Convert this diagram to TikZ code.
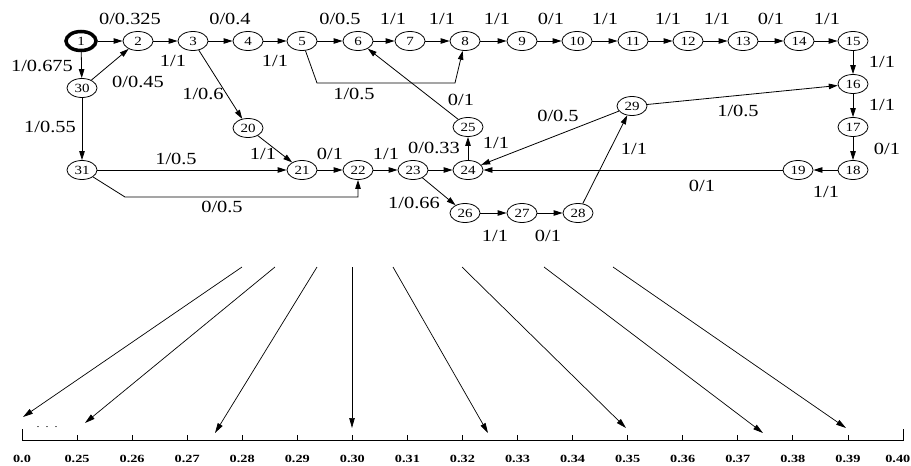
\documentclass[tikz,border=0pt]{standalone}
\usepackage{fontspec}
\setmainfont{Liberation Serif}
\newfontfamily\edgefont[FakeStretch=1.2]{Liberation Serif}
\newfontfamily\axisfont[FakeStretch=1.3]{Liberation Serif}
\usetikzlibrary{arrows.meta,shapes.geometric}

\begin{document}
\begin{tikzpicture}[x=1pt,y=-1pt,
  state/.style={draw, ellipse, minimum width=30pt, minimum height=19pt, inner sep=0pt,
    line width=0.8pt, font=\edgefont\fontsize{12.5}{12.5}\selectfont},
  initial/.style={state, line width=3.5pt},
  edge/.style={draw, line width=0.8pt, -{Triangle[length=9pt,width=5.5pt]}},
  ray/.style={draw, line width=0.7pt, -{Triangle[length=10pt,width=5.5pt]}},
  lbl/.style={font=\edgefont\fontsize{17}{17}\selectfont, inner sep=0pt},
  tick/.style={font=\axisfont\bfseries\fontsize{11}{11}\selectfont, inner sep=0pt}]

\useasboundingbox (0,0) rectangle (911,466);

% ---------- states ----------
\node[initial] (n1) at (81,41) {1};
\foreach \i/\x in {2/138,3/193,4/248,5/302,6/358,7/410,8/465,9/522,10/577,
                   11/633,12/688,13/743,14/799,15/853}
  \node[state] (n\i) at (\x,41) {\i};
\node[state] (n16) at (853,84) {16};
\node[state] (n17) at (853,127) {17};
\node[state] (n18) at (853,170) {18};
\node[state] (n19) at (798,170) {19};
\node[state] (n20) at (248,128) {20};
\node[state] (n21) at (302,170) {21};
\node[state] (n22) at (358,170) {22};
\node[state] (n23) at (413,170) {23};
\node[state] (n24) at (468,170) {24};
\node[state] (n25) at (468,127) {25};
\node[state] (n26) at (465,213) {26};
\node[state] (n27) at (522,213) {27};
\node[state] (n28) at (578,213) {28};
\node[state] (n29) at (632,106) {29};
\node[state] (n30) at (82,88) {30};
\node[state] (n31) at (82,170) {31};

% ---------- transitions ----------
\foreach \a/\b in {1/2,2/3,3/4,4/5,5/6,6/7,7/8,8/9,9/10,10/11,11/12,12/13,13/14,14/15,
                   15/16,16/17,17/18,18/19,19/24,1/30,30/2,30/31,31/21,3/20,20/21,
                   21/22,22/23,23/24,24/25,25/6,23/26,26/27,27/28,28/29,29/24,29/16}
  \draw[edge] (n\a) -- (n\b);

\coordinate (b5) at (317,83);
\coordinate (b8) at (455,83);
\draw[edge] (n5) -- (b5) -- (b8) -- (n8);

\coordinate (b31) at (125,197);
\coordinate (b22) at (358,197);
\draw[edge] (n31) -- (b31) -- (b22) -- (n22);

% ---------- transition labels ----------
\node[lbl] (l1) at (130,19) {0/0.325};
\node[lbl] (l2) at (230,19) {0/0.4};
\node[lbl] (l3) at (173,61) {1/1};
\node[lbl] (l4) at (275,61) {1/1};
\node[lbl] (l5) at (340,19) {0/0.5};
\node[lbl] (l6) at (393,19) {1/1};
\node[lbl] (l7) at (442,19) {1/1};
\node[lbl] (l8) at (497,19) {1/1};
\node[lbl] (l9) at (551,19) {0/1};
\node[lbl] (l10) at (605,19) {1/1};
\node[lbl] (l11) at (668,19) {1/1};
\node[lbl] (l12) at (717,19) {1/1};
\node[lbl] (l13) at (771,19) {0/1};
\node[lbl] (l14) at (827,19) {1/1};
\node[lbl] (l15) at (882,62) {1/1};
\node[lbl] (l16) at (882,105) {1/1};
\node[lbl] (l17) at (887,149) {0/1};
\node[lbl] (l18) at (826,192) {1/1};
\node[lbl] (l19) at (702,186) {0/1};
\node[lbl] (l20) at (634,149) {1/1};
\node[lbl] (l21) at (738,111) {1/0.5};
\node[lbl] (l22) at (558,116) {0/0.5};
\node[lbl] (l23) at (496,143) {1/1};
\node[lbl] (l24) at (434,148) {0/0.33};
\node[lbl] (l25) at (461,100) {0/1};
\node[lbl] (l26) at (354,94) {1/0.5};
\node[lbl] (l27) at (330,154) {0/1};
\node[lbl] (l28) at (386,154) {1/1};
\node[lbl] (l29) at (414,203) {1/0.66};
\node[lbl] (l30) at (495,236) {1/1};
\node[lbl] (l31) at (548,236) {0/1};
\node[lbl] (l32) at (42,66) {1/0.675};
\node[lbl] (l33) at (138,82) {0/0.45};
\node[lbl] (l34) at (50,127) {1/0.55};
\node[lbl] (l35) at (203,94) {1/0.6};
\node[lbl] (l36) at (263,154) {1/1};
\node[lbl] (l37) at (176,159) {1/0.5};
\node[lbl] (l38) at (222,207) {0/0.5};

% ---------- probability axis ----------
\coordinate (ax0) at (22,440);
\coordinate (ax1) at (903,440);
\draw[line width=0.8pt] (22,429) -- (ax0) -- (ax1) -- (903,429);
\foreach \k/\t in {0/0.0,1/0.25,2/0.26,3/0.27,4/0.28,5/0.29,6/0.30,7/0.31,8/0.32,
                   9/0.33,10/0.34,11/0.35,12/0.36,13/0.37,14/0.38,15/0.39} {
  \pgfmathsetmacro{\tx}{22+\k*55.06}
  \ifnum\k>0 \draw[line width=0.8pt] (\tx,435) -- (\tx,440); \fi
  \node[tick] (t\k) at (\tx,459) {\t};
}
\node[tick, anchor=east] (t16) at (910.5,459) {0.40};
\node[font=\edgefont\fontsize{10}{10}\selectfont, inner sep=0pt] (gap) at (47,427) {.\hspace{6pt}.\hspace{6pt}.};

% ---------- rays onto the axis ----------
\foreach \i/\sx/\tx/\ty in {1/242/23/417, 2/275/85/423, 3/317/215/433, 4/352/352/428,
                            5/393/488/433, 6/462/626/428, 7/544/763/433, 8/613/846/428} {
  \coordinate (s\i) at (\sx,267);
  \coordinate (e\i) at (\tx,\ty);
  \draw[ray] (s\i) -- (e\i);
}
\end{tikzpicture}
\end{document}
